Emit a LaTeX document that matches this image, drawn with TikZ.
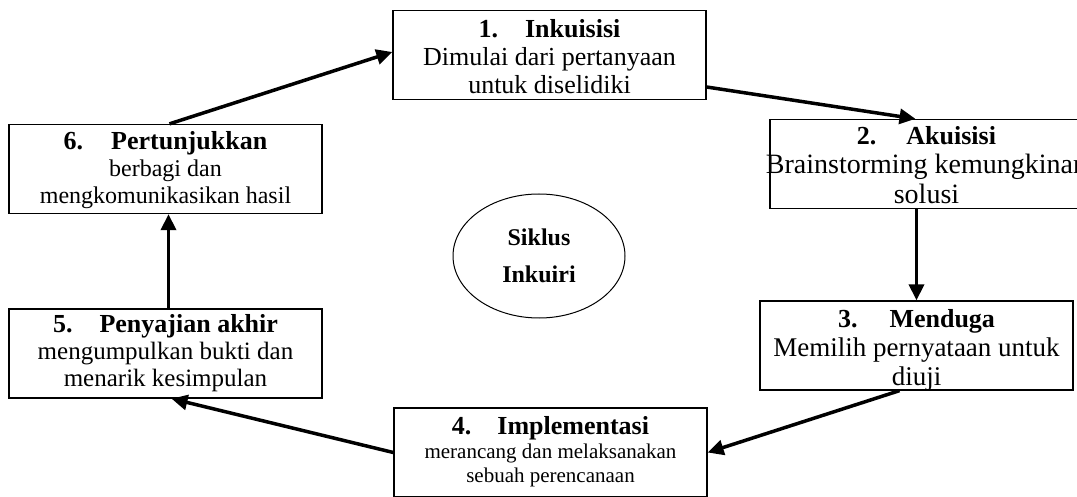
\documentclass[tikz,border=0pt]{standalone}
\usepackage{fontspec}
\setmainfont{Liberation Serif}
\usetikzlibrary{arrows.meta, shapes.geometric}

% box text: first baseline, body size, line skip, title, body lines
\newcommand{\stagetext}[5]{\parbox[t][89pt][t]{313pt}{\centering
  \fontsize{#2}{#3}\selectfont
  \rule{0pt}{#1}{\fontsize{26}{#3}\selectfont\bfseries #4}\\
  #5}}

\begin{document}
\begin{tikzpicture}[x=1pt, y=-1pt,
  stage/.style={rectangle, draw, line width=1.3pt, inner sep=0pt},
  flow/.style={-{Triangle[length=16pt, width=15pt]}, line width=3.5pt}]

\useasboundingbox (0,0) rectangle (1077,497);

\node[stage] (inkuisisi) at (549.5,55)
  {\stagetext{27pt}{26}{28pt}{1.\hspace{27pt}Inkuisisi}{Dimulai dari pertanyaan\\untuk diselidiki}};
\node[stage] (akuisisi) at (926.5,164)
  {\stagetext{25pt}{28}{29.5pt}{2.\hspace{30pt}Akuisisi}{\makebox[0pt]{Brainstorming kemungkinan}\\solusi}};
\node[stage] (menduga) at (916.5,345.5)
  {\stagetext{26pt}{27}{29pt}{3.\hspace{32pt}Menduga}{Memilih pernyataan untuk\\diuji}};
\node[stage] (implementasi) at (550.5,452.5)
  {\stagetext{26pt}{21}{24pt}{4.\hspace{26pt}Implementasi}{merancang dan melaksanakan\\sebuah perencanaan}};
\node[stage] (penyajian) at (165.5,353.5)
  {\stagetext{24pt}{25}{27pt}{5.\hspace{27pt}Penyajian akhir}{mengumpulkan bukti dan\\menarik kesimpulan}};
\node[stage] (pertunjukkan) at (165.5,169)
  {\stagetext{25pt}{24}{27pt}{6.\hspace{28pt}Pertunjukkan}{berbagi dan\\mengkomunikasikan hasil}};

\node[ellipse, draw, line width=1pt, minimum width=172pt, minimum height=124pt, inner sep=0pt,
  align=center, font=\fontsize{24}{37}\selectfont\bfseries] (siklus) at (539,256) {Siklus\\Inkuiri};

% the cycle
\draw[flow] ([yshift=-32pt]inkuisisi.east) -- ([xshift=-11pt]akuisisi.north);
\draw[flow] (akuisisi.south -| menduga.north) -- (menduga.north);
\draw[flow] ([xshift=-17pt]menduga.south) -- (implementasi.east);
\draw[flow] (implementasi.west) -- ([xshift=6pt]penyajian.south);
\draw[flow] ([xshift=3pt]penyajian.north) -- ([xshift=3pt]pertunjukkan.south);
\draw[flow] ([xshift=4pt]pertunjukkan.north) -- ([yshift=3pt]inkuisisi.west);

\end{tikzpicture}
\end{document}
